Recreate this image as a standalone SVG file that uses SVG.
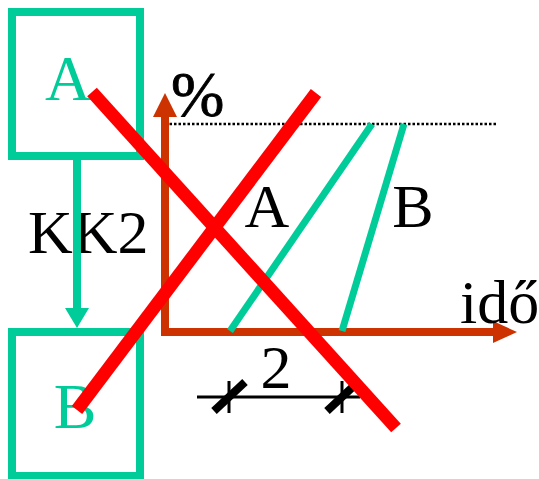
<svg xmlns="http://www.w3.org/2000/svg" width="539" height="479" viewBox="0 0 539 479">
<style>
.box{fill:none;stroke:#00CC99;stroke-width:8}
.gt{font-family:"Liberation Serif",serif;fill:#00CC99;font-size:64px;text-anchor:middle}
.bt{font-family:"Liberation Serif",serif;fill:#000;font-size:62px}
.g{stroke:#00CC99;stroke-width:7;fill:none}
.ax{stroke:#CC3300;stroke-width:8;fill:none}
.r{stroke:#FF0000;stroke-width:13;fill:none}
.k{stroke:#000;fill:none}
</style>
<rect x="0" y="0" width="539" height="479" fill="#fff"/>
<g id="nodeA">
<rect class="box" x="12" y="12" width="128" height="144"/>
<text class="gt" x="68" y="100">A</text>
</g>
<g id="nodeB">
<rect class="box" x="12" y="332" width="128" height="144"/>
<text class="gt" x="75" y="428">B</text>
</g>
<text class="bt" x="28" y="253">KK2</text>
<g id="connectors">
<line x1="77" y1="158" x2="77" y2="310" stroke="#00CC99" stroke-width="8"/>
<polygon points="65,308 89,308 77,328" fill="#00CC99"/>
</g>
<g id="chart">
<line x1="165" y1="124" x2="498" y2="124" stroke="#000" stroke-width="2.5" stroke-dasharray="2.5 2"/>
<path class="ax" d="M165,117 V332 H494" stroke-linejoin="miter"/>
<polygon points="153,117 177,117 165,93" fill="#CC3300"/>
<polygon points="493,321 517,332 493,343" fill="#CC3300"/>
<line class="g" x1="230" y1="331" x2="372" y2="124"/>
<line class="g" x1="342" y1="331" x2="404" y2="124"/>
<text x="171" y="116" style="font-family:'Liberation Serif',serif;font-size:64px;stroke:#000;stroke-width:0.8">%</text>
<text class="bt" x="267" y="227" text-anchor="middle">A</text>
<text class="bt" x="413" y="227" text-anchor="middle">B</text>
<text class="bt" x="460" y="323">idő</text>
<text class="bt" x="276" y="388" text-anchor="middle">2</text>
<line class="k" x1="197" y1="397" x2="360" y2="397" stroke-width="3"/>
<line class="k" x1="229" y1="381" x2="229" y2="413" stroke-width="3"/>
<line class="k" x1="342" y1="381" x2="342" y2="413" stroke-width="3"/>
<line class="k" x1="214" y1="411" x2="245" y2="382" stroke-width="8"/>
<line class="k" x1="327" y1="411" x2="358" y2="382" stroke-width="8"/>
</g>
<g id="cross">
<line class="r" x1="92" y1="92" x2="396" y2="428"/>
<line class="r" x1="316" y1="93" x2="77" y2="410"/>
</g>
</svg>
